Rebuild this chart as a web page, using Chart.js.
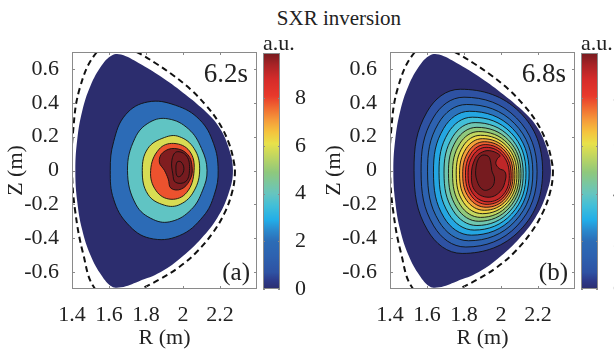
<!DOCTYPE html>
<html>
<head>
<meta charset="utf-8">
<script src="https://cdn.jsdelivr.net/npm/chart.js@4.4.0/dist/chart.umd.min.js"></script>
<style>
  html, body { margin: 0; padding: 0; background: #fff; width: 614px; height: 351px; overflow: hidden; position: relative; }
  canvas { position: absolute; top: 0; }
  #title { position: absolute; left: 0; top: 6px; width: 678px; text-align: center; line-height: 26px;
           font: 21px "Liberation Serif", "Times New Roman", serif; color: #222; }
</style>
</head>
<body>
<div id="title">SXR inversion</div>
<canvas id="panelA" width="262" height="351" style="left:0"></canvas>
<canvas id="barA" width="51" height="351" style="left:263px"></canvas>
<canvas id="panelB" width="262" height="351" style="left:318px"></canvas>
<canvas id="barB" width="51" height="351" style="left:581px"></canvas>
<script>
// axis ticks
const rTicks = [1.4, 1.6, 1.8, 2, 2.2];
const zTicks = [-0.6, -0.4, -0.2, 0, 0.2, 0.4, 0.6];
const barTicks = [0, 2, 4, 6, 8];
const barMax = 9.9;
const frameTimes = ['6.2s', '6.8s'];
const frameTags = ['(a)', '(b)'];

// plasma edge (outer limit of the inversion) and the dashed wall, [R, Z] in m
const plasmaEdge = [
  [2.27, 0.0], [2.245, 0.14], [2.19, 0.265], [2.10, 0.37], [2.0, 0.46], [1.88, 0.555], [1.76, 0.635],
  [1.665, 0.685], [1.615, 0.68], [1.56, 0.62], [1.50, 0.50], [1.455, 0.35], [1.428, 0.18], [1.418, 0.0],
  [1.428, -0.18], [1.455, -0.35], [1.50, -0.50], [1.56, -0.62], [1.615, -0.685], [1.665, -0.69],
  [1.76, -0.655], [1.88, -0.60], [2.0, -0.505], [2.10, -0.40], [2.185, -0.28], [2.245, -0.14]
];
const wall = [
  [2.28, -0.03], [2.275, 0.05], [2.245, 0.17], [2.19, 0.29], [2.12, 0.39], [2.04, 0.48], [1.95, 0.56],
  [1.85, 0.635], [1.75, 0.70], [1.64, 0.75], [1.535, 0.70], [1.443, 0.49], [1.405, 0.22], [1.40, 0.0],
  [1.416, -0.23], [1.46, -0.49], [1.525, -0.70], [1.64, -0.76], [1.77, -0.70], [1.87, -0.645],
  [1.98, -0.57], [2.075, -0.48], [2.16, -0.37], [2.225, -0.25], [2.265, -0.13]
];

// 6.2 s contours
const levelsA = [0, 1.96, 3.92, 5.88, 7.84, 9.8, 10.4, 10.9];
const contoursA = [
  plasmaEdge,
  [[2.19, 0], [2.165, 0.16], [2.09, 0.30], [1.96, 0.385], [1.81, 0.405], [1.69, 0.33], [1.625, 0.17], [1.607, 0],
   [1.625, -0.17], [1.70, -0.315], [1.82, -0.40], [1.98, -0.385], [2.11, -0.27], [2.17, -0.14]],
  [[2.13, 0], [2.10, 0.13], [2.03, 0.245], [1.92, 0.305], [1.82, 0.285], [1.74, 0.19], [1.70, 0],
   [1.745, -0.2], [1.84, -0.29], [1.94, -0.30], [2.045, -0.23], [2.105, -0.12]],
  [[2.09, 0.01], [2.06, 0.13], [1.98, 0.2], [1.90, 0.195], [1.81, 0.13], [1.78, 0.0], [1.81, -0.14],
   [1.9, -0.205], [1.985, -0.2], [2.06, -0.12]],
  [[2.06, 0], [2.035, 0.115], [1.95, 0.16], [1.87, 0.125], [1.825, 0.0], [1.855, -0.12], [1.935, -0.17], [2.02, -0.13]],
  [[2.05, 0.01], [2.025, 0.095], [1.955, 0.13], [1.89, 0.105], [1.872, 0.05], [1.9, 0.0], [1.92, -0.05],
   [1.935, -0.105], [1.99, -0.11], [2.035, -0.06]],
  [[2.035, 0.0], [2.02, 0.085], [1.965, 0.11], [1.94, 0.06], [1.945, -0.02], [1.96, -0.07], [2.015, -0.065]],
  [[2.005, 0.01], [1.99, 0.05], [1.968, 0.05], [1.962, 0.0], [1.97, -0.035], [1.99, -0.03]]
];

// 6.8 s contours
const levelsB = [0, 0.7, 1.4, 2.1, 2.8, 3.5, 4.2, 4.9, 5.6, 6.3, 7.0, 7.7, 8.4, 9.1, 9.8, 10.5];
const contoursB = [
  plasmaEdge,
  [[2.225, 0], [2.10, 0.346], [1.78, 0.48], [1.60, 0.346], [1.53, 0], [1.603, -0.353], [1.79, -0.49], [2.103, -0.353]],
  [[2.195, -0.005], [2.084, 0.31], [1.80, 0.433], [1.633, 0.31], [1.568, -0.005], [1.636, -0.327], [1.81, -0.452], [2.087, -0.327]],
  [[2.172, -0.008], [2.072, 0.279], [1.815, 0.39], [1.662, 0.279], [1.603, -0.008], [1.665, -0.301], [1.825, -0.415], [2.075, -0.301]],
  [[2.152, -0.01], [2.062, 0.249], [1.83, 0.35], [1.69, 0.249], [1.635, -0.01], [1.692, -0.278], [1.84, -0.382], [2.065, -0.278]],
  [[2.135, -0.013], [2.054, 0.223], [1.845, 0.315], [1.715, 0.223], [1.665, -0.013], [1.718, -0.257], [1.855, -0.352], [2.057, -0.257]],
  [[2.12, -0.016], [2.047, 0.199], [1.86, 0.283], [1.739, 0.199], [1.692, -0.016], [1.742, -0.238], [1.87, -0.325], [2.05, -0.238]],
  [[2.108, -0.018], [2.041, 0.179], [1.87, 0.255], [1.759, 0.179], [1.716, -0.018], [1.762, -0.221], [1.88, -0.30], [2.044, -0.221]],
  [[2.097, -0.02], [2.036, 0.16], [1.88, 0.23], [1.778, 0.16], [1.738, -0.02], [1.781, -0.205], [1.89, -0.277], [2.039, -0.205]],
  [[2.086, -0.022], [2.031, 0.144], [1.89, 0.208], [1.795, 0.144], [1.758, -0.022], [1.798, -0.19], [1.90, -0.255], [2.034, -0.19]],
  [[2.075, -0.024], [2.026, 0.129], [1.90, 0.188], [1.811, 0.129], [1.776, -0.024], [1.814, -0.176], [1.91, -0.235], [2.029, -0.176]],
  [[2.065, -0.026], [2.022, 0.115], [1.91, 0.17], [1.826, 0.115], [1.793, -0.026], [1.829, -0.164], [1.92, -0.217], [2.024, -0.164]],
  [[2.055, -0.028], [2.016, 0.102], [1.915, 0.153], [1.838, 0.102], [1.808, -0.028], [1.841, -0.152], [1.925, -0.20], [2.019, -0.152]],
  [[2.045, -0.03], [2.01, 0.09], [1.92, 0.137], [1.849, 0.09], [1.822, -0.03], [1.852, -0.142], [1.93, -0.185], [2.013, -0.142]],
  [[2.025, -0.05], [2.02, -0.005], [1.99, 0.012], [1.972, 0.042], [1.982, 0.072], [1.995, 0.088], [1.95, 0.115],
   [1.90, 0.11], [1.86, 0.07], [1.84, -0.03], [1.86, -0.12], [1.93, -0.158], [1.995, -0.125]],
  [[1.965, -0.05], [1.95, -0.1], [1.905, -0.115], [1.87, -0.06], [1.865, 0.02], [1.89, 0.085], [1.93, 0.085], [1.945, 0.045], [1.95, 0.0]]
];

// colour map shared by the fills and the colour bars
const cmapStops = [
  [0, '#2c2d6e'], [0.35, '#2d3a8a'], [0.7, '#2e52a3'], [1.4, '#2d62b0'], [2.0, '#2c6cb6'], [2.5, '#2a8ccf'],
  [2.9, '#22aee8'], [3.5, '#42bfd8'], [4.0, '#66c5bf'], [4.9, '#8fc87c'], [6.1, '#e8e14a'], [6.6, '#f5c23d'],
  [7.1, '#f5993a'], [7.6, '#f06a31'], [8.1, '#e8392b'], [8.8, '#d52b2a'], [9.4, '#a82326'], [9.9, '#761b1f']
];

const FONT = "'Liberation Serif', 'Times New Roman', serif";
const INK = '#222';

function hexRgb(h) {
  const n = parseInt(h.slice(1), 16);
  return [(n >> 16) & 255, (n >> 8) & 255, n & 255];
}
function cmap(v) {
  if (v <= cmapStops[0][0]) return cmapStops[0][1];
  for (let i = 1; i < cmapStops.length; i++) {
    const [v1, c1] = cmapStops[i];
    if (v <= v1) {
      const [v0, c0] = cmapStops[i - 1];
      const t = (v - v0) / (v1 - v0);
      const a = hexRgb(c0), b = hexRgb(c1);
      return 'rgb(' + a.map((x, k) => Math.round(x + (b[k] - x) * t)).join(',') + ')';
    }
  }
  return cmapStops[cmapStops.length - 1][1];
}

// scatter lines are open by default, this closes the contour loops
const closeLoops = {
  id: 'closeLoops',
  afterDatasetUpdate(chart, args) {
    const line = args.meta.dataset;
    if (line && chart.data.datasets[args.index].closed) {
      line._loop = true;
      line._fullLoop = true;
    }
  }
};

// matlab style box with inward ticks
const frame = {
  id: 'frame',
  defaults: { color: '#8a8a8a', len: 3 },
  afterDatasetsDraw(chart, args, opts) {
    const { ctx, chartArea: a, scales } = chart;
    ctx.save();
    ctx.strokeStyle = opts.color;
    ctx.lineWidth = 1;
    ctx.strokeRect(a.left + 0.5, a.top + 0.5, a.right - a.left - 1, a.bottom - a.top - 1);
    ctx.beginPath();
    Object.values(scales).forEach(s => {
      if (!s.options.display) return;
      s.ticks.forEach(t => {
        const p = Math.round(s.getPixelForValue(t.value)) + 0.5;
        if (s.isHorizontal()) {
          ctx.moveTo(p, a.bottom); ctx.lineTo(p, a.bottom - opts.len);
          ctx.moveTo(p, a.top); ctx.lineTo(p, a.top + opts.len);
        } else {
          ctx.moveTo(a.left, p); ctx.lineTo(a.left + opts.len, p);
          ctx.moveTo(a.right, p); ctx.lineTo(a.right - opts.len, p);
        }
      });
    });
    ctx.stroke();
    ctx.restore();
  }
};

// time stamp and panel letter inside the axes
const corner = {
  id: 'corner',
  afterDraw(chart, args, opts) {
    if (!opts.time) return;
    const { ctx, chartArea: a } = chart;
    ctx.save();
    ctx.fillStyle = INK;
    ctx.textAlign = 'right';
    ctx.textBaseline = 'alphabetic';
    ctx.font = '27px ' + FONT;
    ctx.fillText(opts.time, a.right - 9, a.top + 30);
    ctx.font = '25px ' + FONT;
    ctx.fillText(opts.tag, a.right - 7, a.bottom - 9);
    ctx.restore();
  }
};

// unit above the colour bar
const unitLabel = {
  id: 'unitLabel',
  afterDraw(chart, args, opts) {
    if (!opts.text) return;
    const { ctx, chartArea: a } = chart;
    ctx.save();
    ctx.fillStyle = INK;
    ctx.font = '22px ' + FONT;
    ctx.textAlign = 'left';
    ctx.textBaseline = 'alphabetic';
    ctx.fillText(opts.text, a.left, a.top - 3);
    ctx.restore();
  }
};

function contourPanel(id, contours, levels, time, tag) {
  const datasets = contours.map((pts, i) => ({
    data: pts.map(([x, y]) => ({ x, y })),
    closed: true,
    showLine: true,
    fill: 'shape',
    backgroundColor: cmap(levels[i]),
    borderColor: '#111',
    borderWidth: i === 0 ? 0 : 0.9,
    tension: 0.4,
    spanGaps: true,
    pointRadius: 0,
    order: contours.length - i
  }));
  datasets.push({
    data: wall.map(([x, y]) => ({ x, y })),
    closed: true,
    showLine: true,
    fill: false,
    borderColor: '#111',
    borderWidth: 2,
    borderDash: [6, 4],
    tension: 0.4,
    spanGaps: true,
    pointRadius: 0,
    order: -1
  });

  return new Chart(document.getElementById(id), {
    type: 'scatter',
    data: { datasets },
    plugins: [closeLoops, frame, corner],
    options: {
      responsive: false,
      animation: false,
      devicePixelRatio: 1,
      events: [],
      layout: { padding: { top: 52, right: 5, left: 0, bottom: 0 } },
      elements: { line: { capBezierPoints: false } },
      plugins: {
        legend: { display: false },
        tooltip: { enabled: false },
        corner: { time, tag }
      },
      scales: {
        x: {
          type: 'linear', min: 1.4, max: 2.4,
          afterBuildTicks: s => { s.ticks = rTicks.map(v => ({ value: v })); },
          afterFit: s => { s.height = 62; },
          grid: { display: false },
          border: { display: false },
          ticks: { padding: 5, color: INK, font: { family: FONT, size: 22 }, maxRotation: 0, autoSkip: false,
                   callback: v => String(v) },
          title: { display: true, text: 'R (m)', color: INK, font: { family: FONT, size: 22 },
                   padding: { top: 0, bottom: 0 } }
        },
        y: {
          type: 'linear', min: -0.7, max: 0.7,
          afterBuildTicks: s => { s.ticks = zTicks.map(v => ({ value: v })); },
          afterFit: s => { s.width = 72; },
          grid: { display: false },
          border: { display: false },
          ticks: { padding: 5, color: INK, font: { family: FONT, size: 22 }, autoSkip: false,
                   callback: v => String(v) },
          title: { display: true, text: 'Z (m)', color: INK, font: { family: FONT, size: 22 },
                   padding: { top: 3, bottom: 0 } }
        }
      }
    }
  });
}

function colourBar(id) {
  return new Chart(document.getElementById(id), {
    type: 'bar',
    data: {
      labels: ['a.u.'],
      datasets: [{
        data: [[0, barMax]],
        borderWidth: 0,
        barPercentage: 1,
        categoryPercentage: 1,
        backgroundColor: c => {
          const chart = c.chart, y = chart.scales.y;
          if (!chart.chartArea || !y) return cmap(barMax / 2);
          const g = chart.ctx.createLinearGradient(0, y.getPixelForValue(0), 0, y.getPixelForValue(barMax));
          cmapStops.forEach(([v, col]) => g.addColorStop(Math.min(1, v / barMax), col));
          return g;
        }
      }]
    },
    plugins: [frame, unitLabel],
    options: {
      responsive: false,
      animation: false,
      devicePixelRatio: 1,
      events: [],
      layout: { padding: { top: 53, bottom: 62, left: 0, right: 0 } },
      plugins: {
        legend: { display: false },
        tooltip: { enabled: false },
        frame: { len: 2 },
        unitLabel: { text: 'a.u.' }
      },
      scales: {
        x: { display: false },
        y: {
          position: 'right', min: 0, max: barMax,
          afterBuildTicks: s => { s.ticks = barTicks.map(v => ({ value: v })); },
          afterFit: s => { s.width = 34; },
          grid: { display: false },
          border: { display: false },
          ticks: { padding: 7, color: INK, font: { family: FONT, size: 22 }, autoSkip: false }
        }
      }
    }
  });
}

contourPanel('panelA', contoursA, levelsA, frameTimes[0], frameTags[0]);
colourBar('barA');
contourPanel('panelB', contoursB, levelsB, frameTimes[1], frameTags[1]);
colourBar('barB');
</script>
</body>
</html>
